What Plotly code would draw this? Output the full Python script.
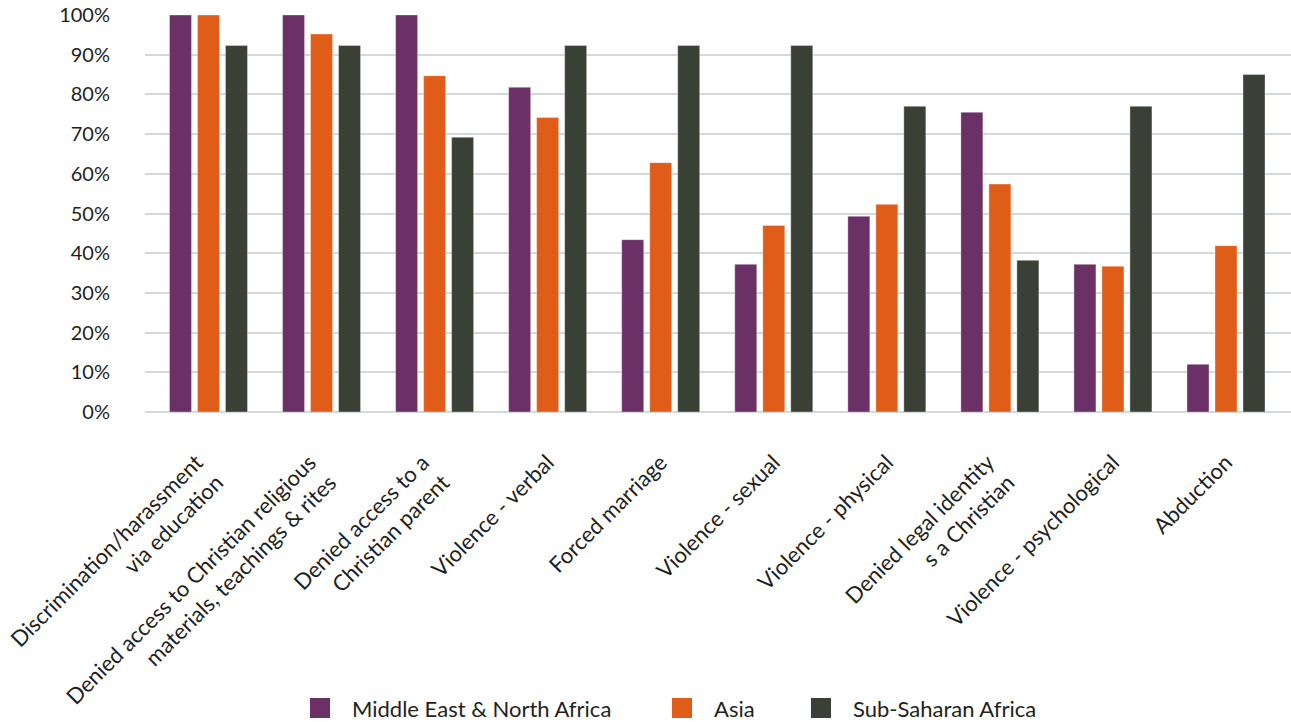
import plotly.graph_objects as go

categories = [
    "Discrimination/harassment<br>via education",
    "Denied access to Christian religious<br>materials, teachings & rites",
    "Denied access to a<br>Christian parent",
    "Violence - verbal",
    "Forced marriage",
    "Violence - sexual",
    "Violence - physical",
    "Denied legal identity<br>s a Christian",
    "Violence - psychological",
    "Abduction",
]
series_names = ["Middle East & North Africa", "Asia", "Sub-Saharan Africa"]
mena = [100, 100, 100, 81.8, 43.4, 37.2, 49.3, 75.5, 37.2, 12.0]
asia = [100, 95.2, 84.7, 74.2, 62.8, 47.0, 52.3, 57.4, 36.7, 41.9]
ssa = [92.3, 92.3, 69.2, 92.3, 92.3, 92.3, 77.0, 38.2, 77.0, 85.0]
colors = ["#6B3066", "#E05C19", "#3B4036"]
y_ticks = [0, 10, 20, 30, 40, 50, 60, 70, 80, 90, 100]

FONT = "Lato"
TXT = "#231F20"

xpos = list(range(len(categories)))
fig = go.Figure()
for name, vals, col in zip(series_names, [mena, asia, ssa], colors):
    fig.add_trace(go.Bar(
        x=xpos, y=vals, name=name,
        marker=dict(color=col, line=dict(color="rgba(255,255,255,0.35)", width=1)),
        showlegend=False,
    ))

# custom legend (squares + labels) below the chart
L, R, T, B = 145, 0, 15, 310
W, H = 1291, 722
pw, ph = W - L - R, H - T - B
legend_x = [310, 672, 811]
legend_y = 708
for name, col, lx in zip(series_names, colors, legend_x):
    x0 = (lx - L) / pw
    x1 = (lx + 20 - L) / pw
    y0 = (H - B - (legend_y + 10)) / ph
    y1 = (H - B - (legend_y - 10)) / ph
    fig.add_shape(type="rect", xref="paper", yref="paper", x0=x0, x1=x1, y0=y0, y1=y1,
                  fillcolor=col, line=dict(width=0))
    fig.add_annotation(xref="paper", yref="paper", x=(lx + 40 - L) / pw,
                       y=(H - B - legend_y) / ph, text=name, showarrow=False,
                       xanchor="left", yanchor="middle",
                       font=dict(family=FONT, size=22, color=TXT))

# multi-line labels are centred on their category (shift by half a line)
label_vals = [i - 0.105 * c.count("<br>") for i, c in zip(xpos, categories)]

fig.update_layout(
    width=W, height=H,
    margin=dict(l=L, r=R, t=T, b=B, autoexpand=False),
    paper_bgcolor="white", plot_bgcolor="white",
    barmode="group", bargap=0.257, bargroupgap=0.214,
    font=dict(family=FONT, size=19, color=TXT),
    showlegend=False,
)
fig.update_xaxes(
    tickmode="array", tickvals=label_vals, ticktext=categories,
    tickangle=-45, range=[-0.5616, 9.575], automargin=False,
    ticks="outside", ticklen=28, tickcolor="rgba(0,0,0,0)",
    showgrid=False, showline=False, zeroline=False,
    tickfont=dict(family=FONT, size=22, color=TXT),
)
fig.update_yaxes(
    range=[0, 100], tickvals=y_ticks, ticktext=[f"{v}%" for v in y_ticks],
    automargin=False,
    showgrid=True, gridcolor="#D5D8DB", gridwidth=2,
    zeroline=True, zerolinecolor="#D5D8DB", zerolinewidth=2,
    ticks="outside", ticklen=30, tickcolor="rgba(0,0,0,0)",
    tickfont=dict(family=FONT, size=20, color=TXT),
)
fig.write_html("out.html", config={"displayModeBar": False},
               post_script="document.body.style.margin='0';document.body.style.overflow='hidden';")
